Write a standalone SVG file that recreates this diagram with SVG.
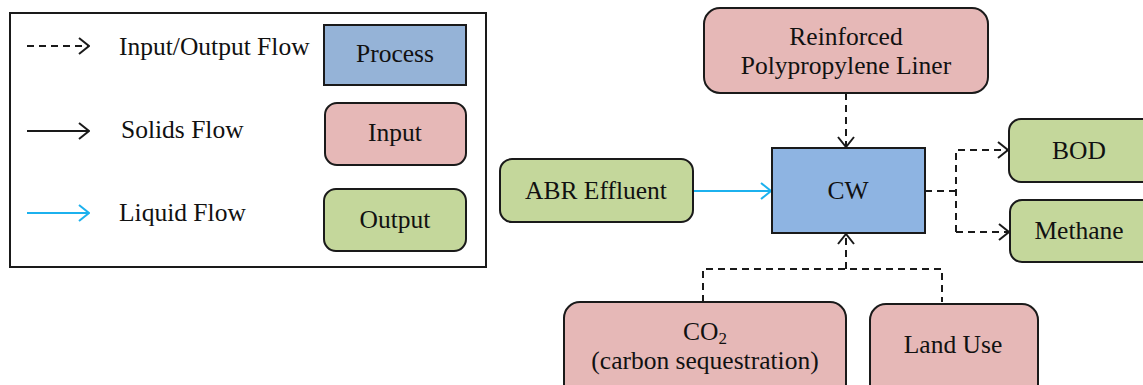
<svg xmlns="http://www.w3.org/2000/svg" width="1143" height="385" viewBox="0 0 1143 385">
<style>
.box{stroke:#1a1a1a;stroke-width:2}
.proc{fill:#8eb4e2}
.inp{fill:#e6b8b7}
.out{fill:#c4d79b}
.dash{fill:none;stroke:#1a1a1a;stroke-width:2;stroke-dasharray:7,5}
.solid{fill:none;stroke:#1a1a1a;stroke-width:2}
.liq{fill:none;stroke:#1cb1ee;stroke-width:2}
</style>
<defs>
<marker id="ah" viewBox="0 0 12 18" refX="11" refY="9" markerWidth="12" markerHeight="18" markerUnits="userSpaceOnUse" orient="auto">
<path d="M1,1 L11,9 L1,17" fill="none" stroke="#1a1a1a" stroke-width="2"/>
</marker>
<marker id="ahb" viewBox="0 0 12 18" refX="11" refY="9" markerWidth="12" markerHeight="18" markerUnits="userSpaceOnUse" orient="auto">
<path d="M1,1 L11,9 L1,17" fill="none" stroke="#1cb1ee" stroke-width="2"/>
</marker>
</defs>
<rect width="1143" height="385" fill="#fff"/>
<g id="legend">
<rect x="10" y="13" width="476" height="254" fill="none" stroke="#1a1a1a" stroke-width="2"/>
<path class="dash" d="M27,46 H89" marker-end="url(#ah)"/>
<path class="solid" d="M27,131 H89" marker-end="url(#ah)"/>
<path class="liq" d="M27,213 H89" marker-end="url(#ahb)"/>
<g font-family="'Liberation Serif', 'Times New Roman', Tinos, serif" font-size="25.5" fill="#111">
<text x="119" y="55">Input/Output Flow</text>
<text x="121" y="138">Solids Flow</text>
<text x="119" y="221">Liquid Flow</text>
</g>
<rect class="box" x="324" y="25" width="142" height="60" fill="#95b3d7"/>
<text x="395" y="62" font-family="'Liberation Serif', 'Times New Roman', Tinos, serif" font-size="25.5" fill="#111" text-anchor="middle">Process</text>
<rect class="box inp" x="325" y="103" width="141" height="62" rx="12"/>
<text x="395" y="141" font-family="'Liberation Serif', 'Times New Roman', Tinos, serif" font-size="25.5" fill="#111" text-anchor="middle">Input</text>
<rect class="box out" x="324" y="189" width="142" height="62" rx="12"/>
<text x="395" y="228" font-family="'Liberation Serif', 'Times New Roman', Tinos, serif" font-size="25.5" fill="#111" text-anchor="middle">Output</text>
</g>
<g id="connectors">
<path class="dash" d="M846,93 V147" marker-end="url(#ah)"/>
<path class="liq" d="M693,191 H771" marker-end="url(#ahb)"/>
<path class="dash" d="M925,191 H956"/>
<path class="dash" d="M956,232 V150 H1008" marker-end="url(#ah)"/>
<path class="dash" d="M956,232 H1009" marker-end="url(#ah)"/>
<path class="dash" d="M703,302 V269 H942 V302"/>
<path class="dash" d="M846,269 V234" marker-end="url(#ah)"/>
</g>
<g id="liner">
<rect class="box inp" x="704" y="8" width="284" height="85" rx="16"/>
<text x="846" y="45" font-family="'Liberation Serif', 'Times New Roman', Tinos, serif" font-size="25.5" fill="#111" text-anchor="middle">Reinforced</text>
<text x="846" y="74" font-family="'Liberation Serif', 'Times New Roman', Tinos, serif" font-size="25.5" fill="#111" text-anchor="middle">Polypropylene Liner</text>
</g>
<g id="cw">
<rect class="box proc" x="772" y="148" width="153" height="85"/>
<text x="848" y="199" font-family="'Liberation Serif', 'Times New Roman', Tinos, serif" font-size="25.5" fill="#111" text-anchor="middle">CW</text>
</g>
<g id="abr">
<rect class="box out" x="500" y="159" width="193" height="63" rx="12"/>
<text x="596" y="199" font-family="'Liberation Serif', 'Times New Roman', Tinos, serif" font-size="25.5" fill="#111" text-anchor="middle">ABR Effluent</text>
</g>
<g id="bod">
<rect class="box out" x="1009" y="119" width="145" height="63" rx="12"/>
<text x="1079" y="159" font-family="'Liberation Serif', 'Times New Roman', Tinos, serif" font-size="25.5" fill="#111" text-anchor="middle">BOD</text>
</g>
<g id="methane">
<rect class="box out" x="1010" y="200" width="144" height="62" rx="12"/>
<text x="1079" y="239" font-family="'Liberation Serif', 'Times New Roman', Tinos, serif" font-size="25.5" fill="#111" text-anchor="middle">Methane</text>
</g>
<g id="co2">
<rect class="box inp" x="564" y="302" width="282" height="100" rx="16"/>
<text x="705" y="340" font-family="'Liberation Serif', 'Times New Roman', Tinos, serif" font-size="25.5" fill="#111" text-anchor="middle">CO<tspan font-size="17" dy="4">2</tspan></text>
<text x="705" y="369" font-family="'Liberation Serif', 'Times New Roman', Tinos, serif" font-size="25.5" fill="#111" text-anchor="middle">(carbon sequestration)</text>
</g>
<g id="landuse">
<rect class="box inp" x="870" y="304" width="168" height="100" rx="16"/>
<text x="953" y="353" font-family="'Liberation Serif', 'Times New Roman', Tinos, serif" font-size="25.5" fill="#111" text-anchor="middle">Land Use</text>
</g>
</svg>
